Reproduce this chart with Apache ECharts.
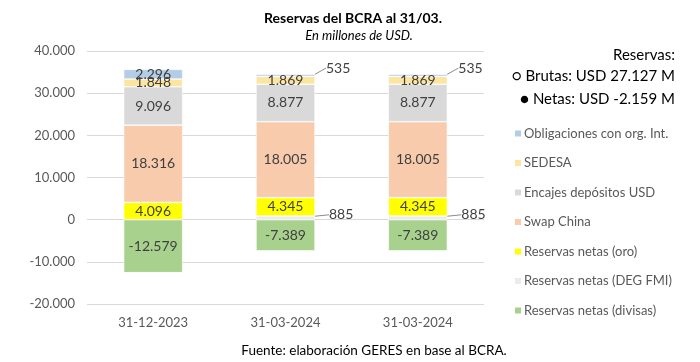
<!DOCTYPE html>
<html><head><meta charset="utf-8">
<script src="https://cdn.jsdelivr.net/npm/echarts@6/dist/echarts.min.js"></script>
<style>html,body{margin:0;padding:0;background:#fff}#c{width:700px;height:362px}</style>
</head><body><div id="c"></div>
<script>
const categories = ['31-12-2023', '31-03-2024', '31-03-2024'];
const divisas = [-12579, -7389, -7389];
const degFmi = [0, 885, 885];
const oro = [4096, 4345, 4345];
const swapChina = [18316, 18005, 18005];
const encajes = [9096, 8877, 8877];
const sedesa = [1848, 1869, 1869];
const obligaciones = [2296, 535, 535];
const yTicks = [-20000, -10000, 0, 10000, 20000, 30000, 40000];
const brutas = 27127;
const netas = -2159;

const FONT = 'Lato';
function fmt(v) {
  const s = Math.abs(v).toString().replace(/\B(?=(\d{3})+(?!\d))/g, '.');
  return (v < 0 ? '-' : '') + s;
}
function fmtDec(v) {
  const parts = Math.abs(v).toFixed(3).split('.');
  return (v < 0 ? '-' : '') + parts[0] + '.' + parts[1];
}

const chart = echarts.init(document.getElementById('c'), null, {renderer: 'canvas'});
const labelBase = {
  show: true, position: 'inside', color: '#404040', fontFamily: FONT, fontSize: 14,
  formatter: p => fmt(p.value)
};
const outsideLine = {show: true, lineStyle: {color: '#8c8c8c', width: 1}};
function toData(arr, outsideFrom) {
  return arr.map((v, i) => {
    if (v === 0) return {value: v, label: {show: false}, labelLine: {show: false}};
    if (outsideFrom !== undefined && i >= outsideFrom) return {value: v, labelLine: outsideLine};
    return {value: v};
  });
}
function mk(name, data, color, extra) {
  return Object.assign({
    name, type: 'bar', stack: 'total', data: toData(data), barWidth: 59,
    itemStyle: {color, borderColor: '#fff', borderWidth: 0.6},
    label: labelBase,
    emphasis: {disabled: true}
  }, extra || {});
}

const series = [
  mk('Reservas netas (divisas)', divisas, '#a9d18e'),
  mk('Reservas netas (DEG FMI)', degFmi, '#ebebeb', {
    data: toData(degFmi, 0),
    labelLayout: p => (p.dataIndex === 0 ? {} :
      {x: p.rect.x + p.rect.width + 14, y: p.rect.y + p.rect.height / 2 - 3, align: 'left', verticalAlign: 'middle'})
  }),
  mk('Reservas netas (oro)', oro, '#ffff00'),
  mk('Swap China', swapChina, '#f8cbad'),
  mk('Encajes depósitos USD', encajes, '#d9d9d9'),
  mk('SEDESA', sedesa, '#fbe5a0'),
  mk('Obligaciones con org. Int.', obligaciones, '#b4cde6', {
    data: toData(obligaciones, 1),
    labelLayout: p => (p.dataIndex === 0 ? {} :
      {x: p.rect.x + p.rect.width + 11, y: p.rect.y - 6, align: 'left', verticalAlign: 'middle'})
  })
];

chart.setOption({
  animation: false,
  backgroundColor: '#fff',
  textStyle: {fontFamily: FONT},
  title: [
    {text: 'Reservas del BCRA al 31/03.', left: 348, top: 6, textAlign: 'center',
     textStyle: {fontFamily: FONT, fontSize: 14, fontWeight: 'bold', color: '#000'}},
    {text: 'En millones de USD.', left: 354, top: 24, textAlign: 'center',
     textStyle: {fontFamily: FONT, fontSize: 13, fontStyle: 'italic', fontWeight: 'normal', color: '#000'}},
    {text: 'Fuente: elaboración GERES en base al BCRA.', left: 369, top: 339, textAlign: 'center',
     textStyle: {fontFamily: FONT, fontSize: 13.5, fontWeight: 'normal', color: '#000'}}
  ],
  graphic: [
    {type: 'text', right: 25, top: 48, style: {text: 'Reservas:', font: '15px ' + FONT, fill: '#000', textAlign: 'right'}},
    {type: 'text', right: 25, top: 69, style: {text: '○ Brutas: USD ' + fmtDec(brutas / 1000) + ' M', font: '15px ' + FONT, fill: '#000', textAlign: 'right'}},
    {type: 'text', right: 25, top: 92, style: {text: '● Netas: USD ' + fmtDec(netas / 1000) + ' M', font: '15px ' + FONT, fill: '#000', textAlign: 'right'}}
  ],
  legend: {
    orient: 'vertical', left: 508, top: 122, itemGap: 16.5, itemWidth: 8, itemHeight: 8,
    icon: 'rect', selectedMode: false,
    textStyle: {fontFamily: FONT, fontSize: 13, color: '#595959', padding: [0, 0, 0, -3]},
    data: ['Obligaciones con org. Int.', 'SEDESA', 'Encajes depósitos USD', 'Swap China',
           'Reservas netas (oro)', 'Reservas netas (DEG FMI)', 'Reservas netas (divisas)']
  },
  grid: {left: 87, right: 216, top: 51, bottom: 58},
  xAxis: {
    type: 'category', data: categories,
    axisLine: {show: false}, axisTick: {show: false},
    axisLabel: {color: '#595959', fontFamily: FONT, fontSize: 13, margin: 12}
  },
  yAxis: {
    type: 'value', min: yTicks[0], max: yTicks[yTicks.length - 1], interval: 10000,
    axisLine: {show: false}, axisTick: {show: false},
    splitLine: {lineStyle: {color: '#d9d9d9', width: 1}},
    axisLabel: {color: '#595959', fontFamily: FONT, fontSize: 13, margin: 12, formatter: v => fmt(v)}
  },
  series
});
</script></body></html>
